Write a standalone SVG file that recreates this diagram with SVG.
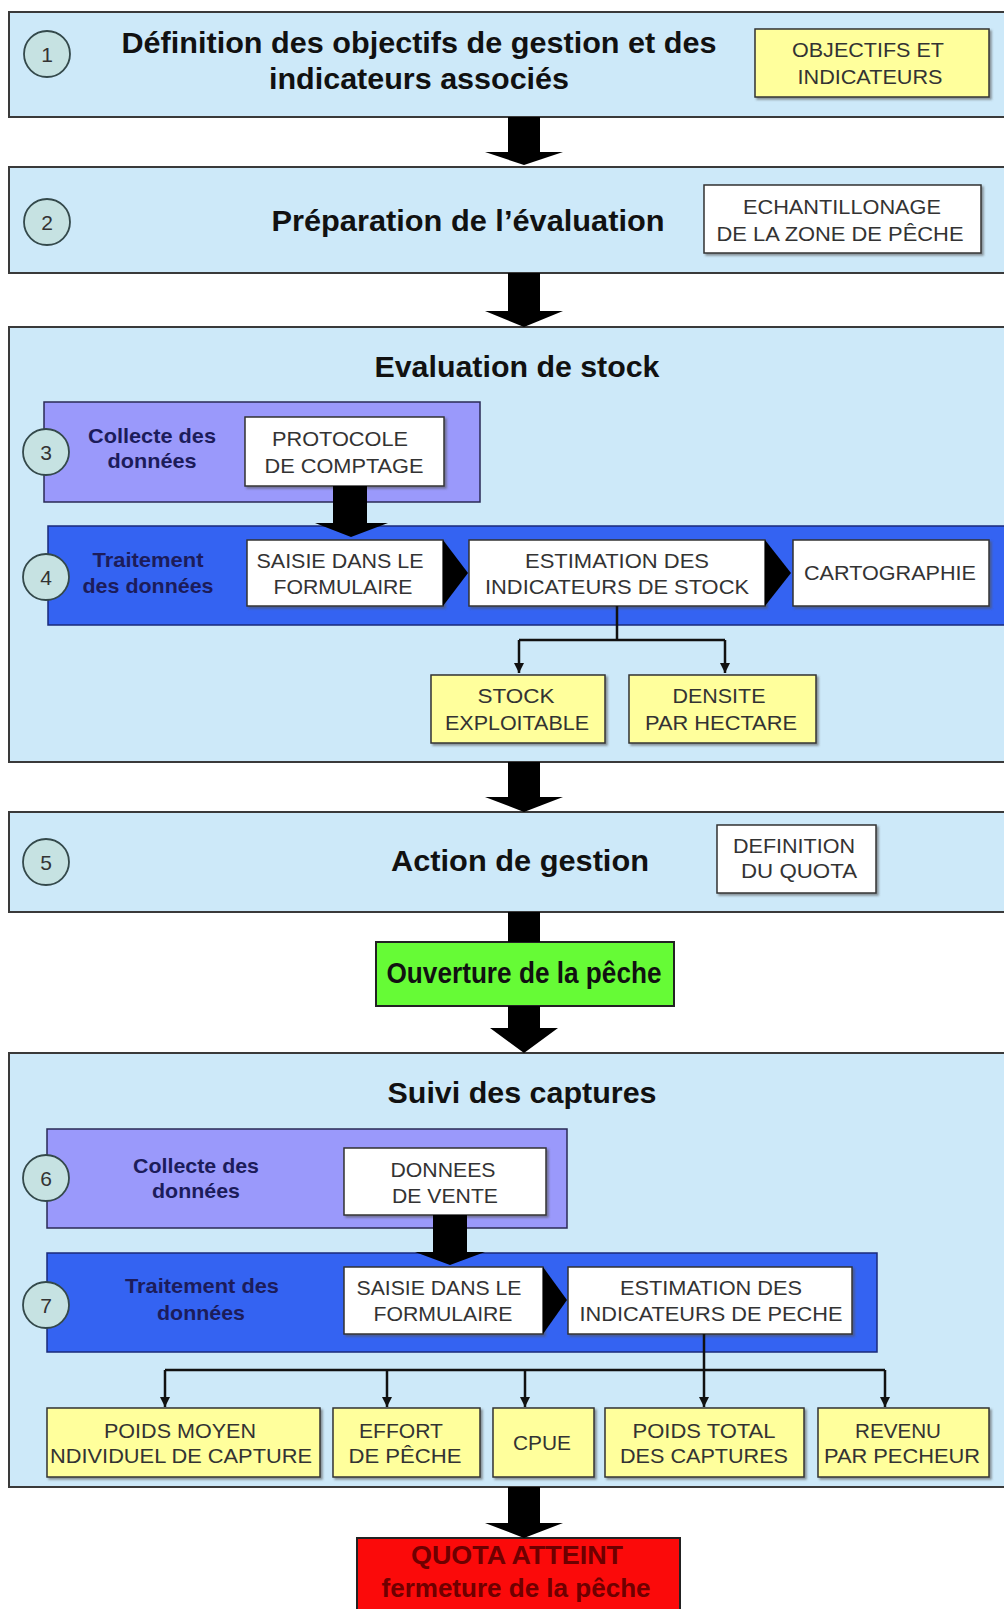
<svg xmlns="http://www.w3.org/2000/svg" width="1004" height="1609" viewBox="0 0 1004 1609">
<defs>
<style>
.stage{fill:#cde9f9;stroke:#3a3a3a;stroke-width:2}
.purple{fill:#9a99fb;stroke:#2a2a55;stroke-width:1.5}
.blue{fill:#3463f2;stroke:#1a2a7a;stroke-width:1.5}
.white{fill:#ffffff;stroke:#333;stroke-width:1.5}
.yellow{fill:#ffff9c;stroke:#333;stroke-width:1.5}
.num{fill:#c6e2e2;stroke:#34494b;stroke-width:1.8}
.numt{font-family:"Liberation Sans",Arial,sans-serif;font-size:21px;fill:#333;text-anchor:middle}
.title{font-family:"Liberation Sans",Arial,sans-serif;font-size:29px;font-weight:bold;fill:#111;text-anchor:middle}
.lbl{font-family:"Liberation Sans",Arial,sans-serif;font-size:21px;font-weight:bold;fill:#1c1c5a;text-anchor:middle}
.bt{font-family:"Liberation Sans",Arial,sans-serif;font-size:21px;fill:#333;text-anchor:middle}
.red{font-family:"Liberation Sans",Arial,sans-serif;font-size:25px;font-weight:bold;fill:#6e0000;text-anchor:middle}
.big{fill:#000}
.thin{fill:none;stroke:#111;stroke-width:2.5}
</style>
<filter id="ds" x="-10%" y="-10%" width="130%" height="140%">
<feDropShadow dx="2" dy="2" stdDeviation="1" flood-color="#555" flood-opacity="0.6"/>
</filter>
<marker id="ah" viewBox="0 0 10 10" refX="10" refY="5" markerWidth="4" markerHeight="4" markerUnits="strokeWidth" orient="auto">
<path d="M0,0 L10,5 L0,10 z" fill="#111"/>
</marker>
</defs>
<rect width="1004" height="1609" fill="#ffffff"/>

<g id="stage1">
<rect class="stage" x="9" y="12" width="1010" height="105"/>
<text class="title" x="419" y="53" textLength="595" lengthAdjust="spacingAndGlyphs">Définition des objectifs de gestion et des</text>
<text class="title" x="419" y="89" textLength="300" lengthAdjust="spacingAndGlyphs">indicateurs associés</text>
<circle class="num" cx="47" cy="54" r="23"/>
<text class="numt" x="47" y="62">1</text>
</g>
<g id="objectifs">
<rect class="yellow" x="755" y="29" width="234" height="68" filter="url(#ds)"/>
<text class="bt" x="868" y="57" textLength="152" lengthAdjust="spacingAndGlyphs">OBJECTIFS ET</text>
<text class="bt" x="870" y="84" textLength="145" lengthAdjust="spacingAndGlyphs">INDICATEURS</text>
</g>

<g id="stage2">
<rect class="stage" x="9" y="167" width="1010" height="106"/>
<text class="title" x="468" y="231" textLength="393" lengthAdjust="spacingAndGlyphs">Préparation de l’évaluation</text>
<circle class="num" cx="47" cy="222" r="23"/>
<text class="numt" x="47" y="230">2</text>
</g>
<g id="echantillonage">
<rect class="white" x="704" y="185" width="277" height="68" filter="url(#ds)"/>
<text class="bt" x="842" y="214" textLength="198" lengthAdjust="spacingAndGlyphs">ECHANTILLONAGE</text>
<text class="bt" x="840" y="241" textLength="247" lengthAdjust="spacingAndGlyphs">DE LA ZONE DE PÊCHE</text>
</g>

<g id="stage3">
<rect class="stage" x="9" y="327" width="1010" height="435"/>
<text class="title" x="517" y="377" textLength="285" lengthAdjust="spacingAndGlyphs">Evaluation de stock</text>
</g>
<g id="collecte1">
<rect class="purple" x="44" y="402" width="436" height="100"/>
<text class="lbl" x="152" y="443" textLength="128" lengthAdjust="spacingAndGlyphs">Collecte des</text>
<text class="lbl" x="152" y="468" textLength="89" lengthAdjust="spacingAndGlyphs">données</text>
</g>
<g id="protocole">
<rect class="white" x="245" y="417" width="199" height="69" filter="url(#ds)"/>
<text class="bt" x="340" y="446" textLength="136" lengthAdjust="spacingAndGlyphs">PROTOCOLE</text>
<text class="bt" x="344" y="473" textLength="159" lengthAdjust="spacingAndGlyphs">DE COMPTAGE</text>
</g>
<g id="traitement1">
<rect class="blue" x="48" y="526" width="970" height="99"/>
<text class="lbl" x="148" y="567" textLength="111" lengthAdjust="spacingAndGlyphs">Traitement</text>
<text class="lbl" x="148" y="593" textLength="131" lengthAdjust="spacingAndGlyphs">des données</text>
</g>
<g id="saisie1">
<rect class="white" x="247" y="540" width="196" height="66" filter="url(#ds)"/>
<text class="bt" x="340" y="568" textLength="167" lengthAdjust="spacingAndGlyphs">SAISIE DANS LE</text>
<text class="bt" x="343" y="594" textLength="139" lengthAdjust="spacingAndGlyphs">FORMULAIRE</text>
</g>
<g id="estimation1">
<rect class="white" x="469" y="540" width="296" height="66" filter="url(#ds)"/>
<text class="bt" x="617" y="568" textLength="184" lengthAdjust="spacingAndGlyphs">ESTIMATION DES</text>
<text class="bt" x="617" y="594" textLength="264" lengthAdjust="spacingAndGlyphs">INDICATEURS DE STOCK</text>
</g>
<g id="cartographie">
<rect class="white" x="793" y="540" width="196" height="66" filter="url(#ds)"/>
<text class="bt" x="890" y="580" textLength="172" lengthAdjust="spacingAndGlyphs">CARTOGRAPHIE</text>
</g>
<g id="stock">
<rect class="yellow" x="431" y="675" width="174" height="68" filter="url(#ds)"/>
<text class="bt" x="516" y="703" textLength="77" lengthAdjust="spacingAndGlyphs">STOCK</text>
<text class="bt" x="517" y="730" textLength="144" lengthAdjust="spacingAndGlyphs">EXPLOITABLE</text>
</g>
<g id="densite">
<rect class="yellow" x="629" y="675" width="187" height="68" filter="url(#ds)"/>
<text class="bt" x="719" y="703" textLength="93" lengthAdjust="spacingAndGlyphs">DENSITE</text>
<text class="bt" x="721" y="730" textLength="152" lengthAdjust="spacingAndGlyphs">PAR HECTARE</text>
</g>

<g id="stage5">
<rect class="stage" x="9" y="812" width="1010" height="100"/>
<text class="title" x="520" y="871" textLength="258" lengthAdjust="spacingAndGlyphs">Action de gestion</text>
<circle class="num" cx="46" cy="862" r="23"/>
<text class="numt" x="46" y="870">5</text>
</g>
<g id="quota-def">
<rect class="white" x="717" y="825" width="159" height="68" filter="url(#ds)"/>
<text class="bt" x="794" y="853" textLength="122" lengthAdjust="spacingAndGlyphs">DEFINITION</text>
<text class="bt" x="799" y="878" textLength="116" lengthAdjust="spacingAndGlyphs">DU QUOTA</text>
</g>

<g id="ouverture">
<rect x="376" y="942" width="298" height="64" fill="#66fb36" stroke="#222" stroke-width="2"/>
<text class="title" x="524" y="983" font-size="27" textLength="275" lengthAdjust="spacingAndGlyphs">Ouverture de la pêche</text>
</g>

<g id="stage6">
<rect class="stage" x="9" y="1053" width="1010" height="434"/>
<text class="title" x="522" y="1103" textLength="269" lengthAdjust="spacingAndGlyphs">Suivi des captures</text>
</g>
<g id="collecte2">
<rect class="purple" x="47" y="1129" width="520" height="99"/>
<text class="lbl" x="196" y="1173" textLength="126" lengthAdjust="spacingAndGlyphs">Collecte des</text>
<text class="lbl" x="196" y="1198" textLength="88" lengthAdjust="spacingAndGlyphs">données</text>
</g>
<g id="donnees">
<rect class="white" x="344" y="1148" width="202" height="67" filter="url(#ds)"/>
<text class="bt" x="443" y="1177" textLength="105" lengthAdjust="spacingAndGlyphs">DONNEES</text>
<text class="bt" x="445" y="1203" textLength="106" lengthAdjust="spacingAndGlyphs">DE VENTE</text>
</g>
<g id="traitement2">
<rect class="blue" x="47" y="1253" width="830" height="99"/>
<text class="lbl" x="202" y="1293" textLength="154" lengthAdjust="spacingAndGlyphs">Traitement des</text>
<text class="lbl" x="201" y="1320" textLength="88" lengthAdjust="spacingAndGlyphs">données</text>
</g>
<g id="saisie2">
<rect class="white" x="344" y="1267" width="199" height="67" filter="url(#ds)"/>
<text class="bt" x="439" y="1295" textLength="165" lengthAdjust="spacingAndGlyphs">SAISIE DANS LE</text>
<text class="bt" x="443" y="1321" textLength="139" lengthAdjust="spacingAndGlyphs">FORMULAIRE</text>
</g>
<g id="estimation2">
<rect class="white" x="568" y="1267" width="284" height="67" filter="url(#ds)"/>
<text class="bt" x="711" y="1295" textLength="182" lengthAdjust="spacingAndGlyphs">ESTIMATION DES</text>
<text class="bt" x="711" y="1321" textLength="263" lengthAdjust="spacingAndGlyphs">INDICATEURS DE PECHE</text>
</g>
<g id="poids-moyen">
<rect class="yellow" x="47" y="1408" width="273" height="69" filter="url(#ds)"/>
<text class="bt" x="180" y="1438" textLength="152" lengthAdjust="spacingAndGlyphs">POIDS MOYEN</text>
<text class="bt" x="181" y="1463" textLength="262" lengthAdjust="spacingAndGlyphs">NDIVIDUEL DE CAPTURE</text>
</g>
<g id="effort">
<rect class="yellow" x="333" y="1408" width="147" height="69" filter="url(#ds)"/>
<text class="bt" x="401" y="1438" textLength="84" lengthAdjust="spacingAndGlyphs">EFFORT</text>
<text class="bt" x="405" y="1463" textLength="113" lengthAdjust="spacingAndGlyphs">DE PÊCHE</text>
</g>
<g id="cpue">
<rect class="yellow" x="493" y="1408" width="101" height="69" filter="url(#ds)"/>
<text class="bt" x="542" y="1450" textLength="58" lengthAdjust="spacingAndGlyphs">CPUE</text>
</g>
<g id="poids-total">
<rect class="yellow" x="605" y="1408" width="199" height="69" filter="url(#ds)"/>
<text class="bt" x="704" y="1438" textLength="143" lengthAdjust="spacingAndGlyphs">POIDS TOTAL</text>
<text class="bt" x="704" y="1463" textLength="168" lengthAdjust="spacingAndGlyphs">DES CAPTURES</text>
</g>
<g id="revenu">
<rect class="yellow" x="818" y="1408" width="171" height="69" filter="url(#ds)"/>
<text class="bt" x="898" y="1438" textLength="86" lengthAdjust="spacingAndGlyphs">REVENU</text>
<text class="bt" x="902" y="1463" textLength="156" lengthAdjust="spacingAndGlyphs">PAR PECHEUR</text>
</g>

<g id="fermeture">
<rect x="357" y="1538" width="323" height="90" fill="#fb0a0a" stroke="#222" stroke-width="2"/>
<text class="red" x="517" y="1564" textLength="212" lengthAdjust="spacingAndGlyphs">QUOTA ATTEINT</text>
<text class="red" x="516" y="1597" textLength="269" lengthAdjust="spacingAndGlyphs">fermeture de la pêche</text>
</g>

<g id="connectors">
<path class="big" d="M508,117 H540 V152 H563 L524,165 L485,152 H508 Z"/>
<path class="big" d="M508,273 H540 V311 H563 L524,327 L485,311 H508 Z"/>
<path class="big" d="M333,486 H367 V523 H388 L351,537 L315,523 H333 Z"/>
<path class="big" d="M443,540 L468,573 L443,606 Z"/>
<path class="big" d="M765,540 L791,573 L765,606 Z"/>
<path class="thin" d="M617,606 V640 M519,640 H725"/>
<path class="thin" d="M519,640 V673" marker-end="url(#ah)"/>
<path class="thin" d="M725,640 V673" marker-end="url(#ah)"/>
<path class="big" d="M508,762 H540 V797 H563 L524,812 L485,797 H508 Z"/>
<rect class="big" x="508" y="912" width="32" height="30"/>
<path class="big" d="M508,1006 H540 V1028 H558 L524,1053 L490,1028 H508 Z"/>
<path class="big" d="M433,1215 H467 V1252 H485 L450,1265 L415,1252 H433 Z"/>
<path class="big" d="M543,1267 L567,1300 L543,1334 Z"/>
<path class="thin" d="M704,1334 V1370 M165,1370 H885"/>
<path class="thin" d="M165,1370 V1407" marker-end="url(#ah)"/>
<path class="thin" d="M387,1370 V1407" marker-end="url(#ah)"/>
<path class="thin" d="M525,1370 V1407" marker-end="url(#ah)"/>
<path class="thin" d="M704,1370 V1407" marker-end="url(#ah)"/>
<path class="thin" d="M885,1370 V1407" marker-end="url(#ah)"/>
<path class="big" d="M508,1487 H540 V1523 H563 L524,1538 L485,1523 H508 Z"/>
</g>

<g id="numbers">
<circle class="num" cx="46" cy="452" r="23"/>
<text class="numt" x="46" y="460">3</text>
<circle class="num" cx="46" cy="577" r="23"/>
<text class="numt" x="46" y="585">4</text>
<circle class="num" cx="46" cy="1178" r="23"/>
<text class="numt" x="46" y="1186">6</text>
<circle class="num" cx="46" cy="1305" r="23"/>
<text class="numt" x="46" y="1313">7</text>
</g>
</svg>
